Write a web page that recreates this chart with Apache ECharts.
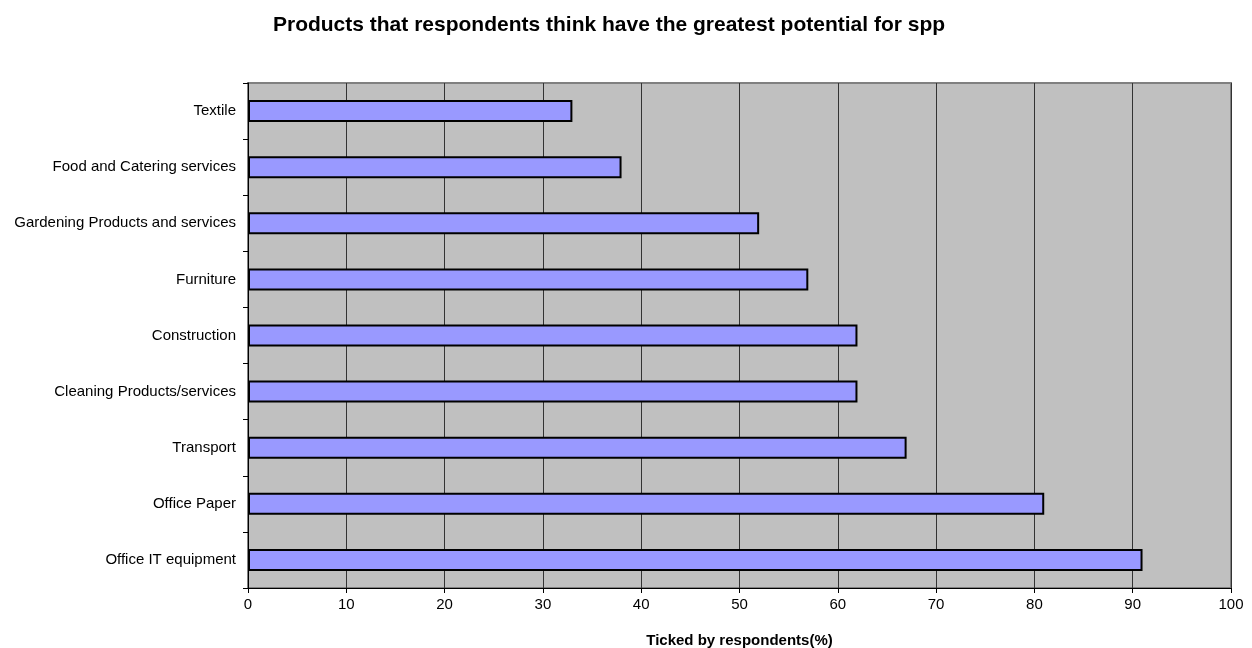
<!DOCTYPE html>
<html>
<head>
<meta charset="utf-8">
<script src="https://cdn.jsdelivr.net/npm/echarts@6/dist/echarts.min.js"></script>
<style>
  html, body { margin: 0; padding: 0; background: #fff; }
  #chart { width: 1252px; height: 648px; }
</style>
</head>
<body>
<div id="chart"></div>
<script>
// categories listed top to bottom
const categories = [
  "Textile",
  "Food and Catering services",
  "Gardening Products and services",
  "Furniture",
  "Construction",
  "Cleaning Products/services",
  "Transport",
  "Office Paper",
  "Office IT equipment"
];
const ticked = [33, 38, 52, 57, 62, 62, 67, 81, 91];
const xTicks = [0, 10, 20, 30, 40, 50, 60, 70, 80, 90, 100];

const font = "'Liberation Sans', Arial, sans-serif";

const option = {
  backgroundColor: "#ffffff",
  animation: false,
  title: {
    text: "Products that respondents think have the greatest potential for spp",
    left: 604,
    top: 10,
    textAlign: "center",
    textStyle: { fontFamily: font, fontSize: 21, fontWeight: "bold", color: "#000" }
  },
  grid: {
    left: 248,
    right: 21,
    top: 83,
    bottom: 60,
    outerBoundsMode: "none",
    show: true,
    backgroundColor: "#C0C0C0",
    borderColor: "#808080",
    borderWidth: 2
  },
  xAxis: {
    type: "value",
    min: xTicks[0],
    max: xTicks[xTicks.length - 1],
    interval: 10,
    name: "Ticked by respondents(%)",
    nameLocation: "middle",
    nameGap: 45,
    nameTextStyle: { fontFamily: font, fontSize: 15, fontWeight: "bold", color: "#000" },
    axisLine: { show: true, lineStyle: { color: "#000", width: 1 } },
    axisTick: { show: true, length: 5, lineStyle: { color: "#000" } },
    axisLabel: { fontFamily: font, fontSize: 15, color: "#000", margin: 9 },
    splitLine: { show: true, lineStyle: { color: "#333", width: 1 } }
  },
  yAxis: {
    type: "category",
    data: categories,
    inverse: true,
    axisLine: { show: true, lineStyle: { color: "#000", width: 1 } },
    axisTick: { show: true, length: 5, lineStyle: { color: "#000" } },
    axisLabel: { fontFamily: font, fontSize: 15, color: "#000", margin: 12 },
    splitLine: { show: false }
  },
  series: [{
    type: "bar",
    data: ticked,
    barWidth: 22,
    itemStyle: { color: "#9999FF", borderColor: "#000", borderWidth: 2 }
  }]
};

const chart = echarts.init(document.getElementById("chart"));
chart.setOption(option);
</script>
</body>
</html>
